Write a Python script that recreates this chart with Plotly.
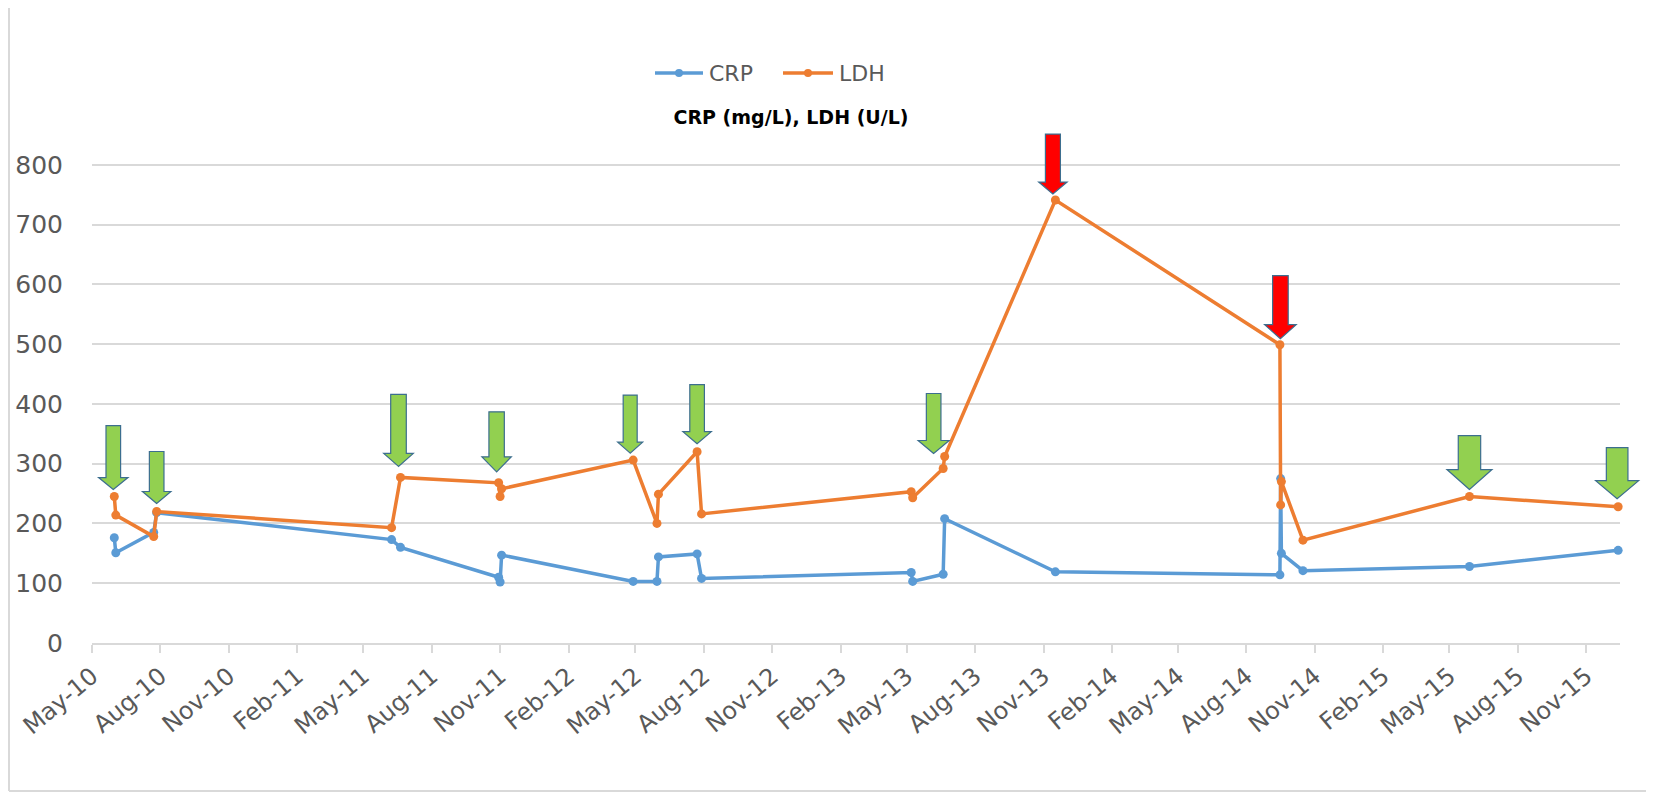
import pandas as pd
import plotly.graph_objects as go

# ---------------- data ----------------
dates = ["2010-05-31", "2010-06-02", "2010-07-23", "2010-07-27", "2011-06-08",
         "2011-06-20", "2011-10-30", "2011-11-01", "2011-11-03", "2012-04-28",
         "2012-05-30", "2012-06-01", "2012-07-23", "2012-07-29", "2013-05-07",
         "2013-05-09", "2013-06-19", "2013-06-21", "2013-11-17", "2014-09-15",
         "2014-09-16", "2014-09-17", "2014-10-16", "2015-05-28", "2015-12-14"]
crp = [176, 151, 185, 218, 173, 160, 110, 102, 147, 103, 103, 144, 149, 108,
       118, 103, 115, 208, 119, 114, 275, 150, 121, 128, 155]
ldh = [245, 214, 178, 220, 193, 277, 268, 245, 258, 306, 200, 249, 320, 216,
       253, 243, 292, 312, 741, 499, 231, 270, 172, 245, 228]
series_names = ["CRP", "LDH"]
y_ticks = [0, 100, 200, 300, 400, 500, 600, 700, 800]
x_range = ["2010-05-01", "2015-12-16 12:00"]
title_text = "CRP (mg/L), LDH (U/L)"

# arrows point at these LDH readings (green = good, red = bad)
arrow_points = [0, 3, 5, 6, 9, 12, 17, 18, 19, 23, 24]
arrow_kinds = ["g", "g", "g", "g", "g", "g", "g", "r", "r", "g", "g"]

# ---------------- styles ----------------
# (gap, total length, head height, head half-width, shaft half-width, x offset) in px
arrow_dims = [
    (7, 64, 12, 14.7, 7.3, -1),
    (8, 52, 12, 14.2, 7.3, 0),
    (11, 72, 13, 14.8, 7.8, -2),
    (11, 60, 15, 14.7, 7.7, -2),
    (7, 58, 11, 12.5, 7.0, -3),
    (8, 59, 12, 14.2, 7.3, 0),
    (3, 60, 13, 15.5, 7.3, -11),
    (6, 60, 12, 14.2, 7.5, -2.5),
    (6, 63, 14, 15.8, 7.8, 0.5),
    (7, 54, 20, 22.5, 11.2, 0),
    (8, 51, 18, 21.5, 10.8, -1),
]
fills = {"g": "#92D050", "r": "#FF0000"}
colors = {"CRP": "#5B9BD5", "LDH": "#ED7D31"}
FONT = "DejaVu Sans"
GRAY = "#595959"
GRID = "#D9D9D9"
LINE_W = 3.5

# page has an 8px body margin; lay out in reference pixels minus that offset
OFF = 8
W, H = 1654 - OFF, 795 - OFF
PL, PT, PR, PB = 92 - OFF, 105 - OFF, 1620 - OFF, 643 - OFF   # plot area box
pw, ph = PR - PL, PB - PT


def px_to_paper(x, y):
    return (x - OFF - PL) / pw, (PB - (y - OFF)) / ph


fig = go.Figure()
for name, vals in zip(series_names, [crp, ldh]):
    fig.add_trace(go.Scatter(
        x=dates, y=vals, name=name, mode="lines+markers",
        line=dict(color=colors[name], width=LINE_W),
        marker=dict(color=colors[name], size=9),
        cliponaxis=False, showlegend=False,
    ))

shapes = []
annotations = []

# block arrows, anchored on the LDH readings
t0, t1 = pd.Timestamp(x_range[0]), pd.Timestamp(x_range[1])
for idx, kind, (gap, length, hh, hw, sw, dx) in zip(arrow_points, arrow_kinds, arrow_dims):
    frac = (pd.Timestamp(dates[idx]) - t0) / (t1 - t0)
    pts = [(0, gap), (-hw, gap + hh), (-sw, gap + hh), (-sw, gap + length),
           (sw, gap + length), (sw, gap + hh), (hw, gap + hh)]
    path = "M" + " L".join(f"{px + dx:.1f},{py:.1f}" for px, py in pts) + " Z"
    shapes.append(dict(
        type="path", xref="x domain", yref="y",
        xsizemode="pixel", ysizemode="pixel",
        xanchor=frac, yanchor=ldh[idx],
        path=path, fillcolor=fills[kind],
        line=dict(color="#3C6E8F", width=1.2), layer="above",
    ))

# legend drawn by hand (long Excel-style line keys)
legend_items = [("CRP", 655, 703, 707), ("LDH", 783, 833, 837)]
LEG_Y = 73
for name, lx0, lx1, tx in legend_items:
    ax0, ay = px_to_paper(lx0, LEG_Y)
    ax1, _ = px_to_paper(lx1, LEG_Y)
    shapes.append(dict(type="line", xref="paper", yref="paper", x0=ax0, x1=ax1,
                       y0=ay, y1=ay, line=dict(color=colors[name], width=LINE_W)))
    cx, _ = px_to_paper((lx0 + lx1) / 2, LEG_Y)
    r = 4 / pw
    rv = 4 / ph
    shapes.append(dict(type="circle", xref="paper", yref="paper",
                       x0=cx - r, x1=cx + r, y0=ay - rv, y1=ay + rv,
                       fillcolor=colors[name], line=dict(width=0)))
    txp, _ = px_to_paper(tx, LEG_Y)
    annotations.append(dict(text=name, xref="paper", yref="paper", x=txp, y=ay,
                            xanchor="left", yanchor="middle", showarrow=False,
                            font=dict(family=FONT, size=22, color=GRAY)))

# chart frame (left and bottom edges visible in the reference)
fx0, fy0 = px_to_paper(9, 791)
shapes.append(dict(type="line", xref="paper", yref="paper", x0=fx0, x1=fx0,
                   y0=fy0, y1=1.5, line=dict(color=GRID, width=2)))
shapes.append(dict(type="line", xref="paper", yref="paper", x0=fx0, x1=1.5,
                   y0=fy0, y1=fy0, line=dict(color=GRID, width=2)))

fig.update_layout(
    width=W, height=H,
    margin=dict(l=PL, r=W - PR, t=PT, b=H - PB, autoexpand=False),
    paper_bgcolor="white", plot_bgcolor="white",
    font=dict(family=FONT, color=GRAY),
    title=dict(text=f"<b>{title_text}</b>", xref="container", yref="container",
               x=(791 - OFF) / W, y=1 - (117 - OFF) / H, xanchor="center", yanchor="middle",
               font=dict(family=FONT, size=19, color="#000000")),
    showlegend=False,
    shapes=shapes,
    annotations=annotations,
    xaxis=dict(
        type="date", range=x_range,
        tick0="2010-05-01", dtick="M3", tickformat="%b-%y",
        tickangle=-40, ticks="outside", ticklen=8, tickcolor=GRID, tickwidth=1.5,
        showline=True, linecolor=GRID, linewidth=1.5,
        showgrid=False, zeroline=False, automargin=False,
        tickfont=dict(family=FONT, size=24, color=GRAY),
        ticklabelstandoff=0,
    ),
    yaxis=dict(
        range=[0, 900], tickvals=y_ticks, ticktext=[str(v) for v in y_ticks],
        showgrid=True, gridcolor=GRID, gridwidth=1.5,
        zeroline=False, showline=False, ticks="", automargin=False,
        tickfont=dict(family=FONT, size=25, color=GRAY),
        ticklabelstandoff=28,
    ),
)

fig.write_html("out.html")
